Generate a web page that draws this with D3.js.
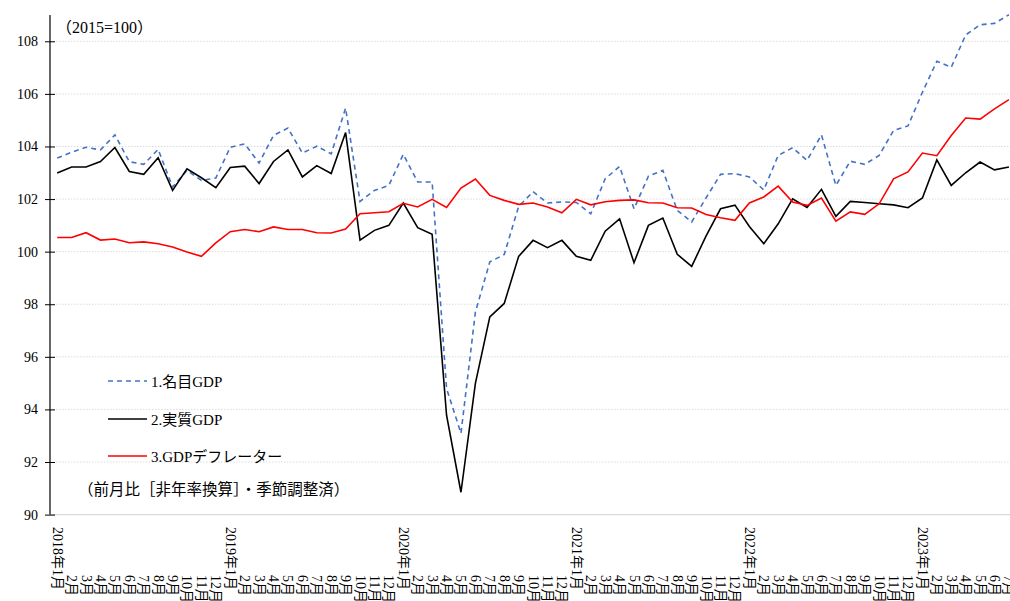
<!DOCTYPE html>
<html><head><meta charset="utf-8">
<script src="https://cdn.jsdelivr.net/npm/d3@7"></script>
<style>
body{margin:0;background:#fff;}
svg text{font-family:"Liberation Serif","Times New Roman","Noto Sans CJK JP",serif;fill:#000;}
</style></head>
<body><svg id="c" width="1010" height="601"></svg>
<script>
const categories = [
"2018年1月","2月","3月","4月","5月","6月","7月","8月","9月","10月","11月","12月",
"2019年1月","2月","3月","4月","5月","6月","7月","8月","9月","10月","11月","12月",
"2020年1月","2月","3月","4月","5月","6月","7月","8月","9月","10月","11月","12月",
"2021年1月","2月","3月","4月","5月","6月","7月","8月","9月","10月","11月","12月",
"2022年1月","2月","3月","4月","5月","6月","7月","8月","9月","10月","11月","12月",
"2023年1月","2月","3月","4月","5月","6月","7月"];

const nominalGDP = [
103.56,103.78,103.97,103.87,104.44,103.42,103.32,103.89,102.46,103.09,102.71,102.80,
103.97,104.10,103.37,104.42,104.70,103.75,104.01,103.72,105.46,101.91,102.33,102.52,
103.70,102.65,102.65,94.80,93.09,97.70,99.61,99.89,101.72,102.28,101.85,101.89,
101.87,101.44,102.77,103.24,101.63,102.87,103.09,101.57,101.13,102.05,102.94,102.97,
102.84,102.35,103.66,103.95,103.47,104.44,102.52,103.44,103.32,103.66,104.61,104.78,
106.06,107.24,107.01,108.24,108.63,108.68,109.01];

const realGDP = [
102.99,103.22,103.22,103.43,103.96,103.05,102.94,103.57,102.33,103.15,102.81,102.43,
103.20,103.25,102.59,103.43,103.87,102.84,103.27,102.97,104.53,100.44,100.81,101.00,
101.85,100.91,100.66,93.78,90.85,94.99,97.52,98.03,99.82,100.43,100.15,100.43,
99.82,99.67,100.78,101.25,99.58,101.00,101.28,99.90,99.44,100.60,101.63,101.77,
100.96,100.30,101.06,102.01,101.68,102.37,101.34,101.91,101.87,101.82,101.78,101.67,
102.04,103.49,102.52,103.00,103.41,103.11,103.22];

const deflator = [
100.54,100.54,100.72,100.44,100.48,100.34,100.37,100.30,100.18,99.99,99.82,100.33,
100.76,100.84,100.76,100.94,100.84,100.84,100.72,100.71,100.86,101.44,101.48,101.52,
101.84,101.70,101.99,101.68,102.42,102.76,102.14,101.95,101.80,101.85,101.70,101.48,
101.99,101.78,101.90,101.95,101.97,101.86,101.85,101.67,101.66,101.41,101.29,101.19,
101.85,102.08,102.49,101.89,101.76,102.04,101.16,101.51,101.42,101.82,102.77,103.03,
103.75,103.65,104.42,105.08,105.04,105.43,105.78];

const yTicks = [90,92,94,96,98,100,102,104,106,108];

const seriesNames = ["1.名目GDP","2.実質GDP","3.GDPデフレーター"];
const seriesColors = ["#4472C4","#000000","#FF0000"];
const seriesDash = ["5,4",null,null];

const svg = d3.select("#c");
const pLeft = 50, pRight = 50 + 67*14.42, pTop = 15, pBottom = 514.6;

const idx = d3.range(categories.length);
const x = d3.scaleBand().domain(idx).range([pLeft, pRight]).paddingInner(0).paddingOuter(0);
const cx = i => x(i) + x.bandwidth()/2;
const y = d3.scaleLinear().domain([90,109]).range([pBottom, pTop]);

// gridlines
svg.append("g").selectAll("line").data(yTicks.filter(t=>t>90)).join("line")
  .attr("x1", pLeft).attr("x2", 1010).attr("y1", d=>y(d)).attr("y2", d=>y(d))
  .attr("stroke","#dcdcdc").attr("stroke-width",1).attr("stroke-dasharray","1.5,1.5");

// x axis line
svg.append("line").attr("x1",pLeft).attr("x2",1010).attr("y1",pBottom).attr("y2",pBottom)
  .attr("stroke","#d9d9d9").attr("stroke-width",1.2);

// y axis
const yAxis = d3.axisLeft(y).tickValues(yTicks).tickSize(5).tickPadding(7).tickFormat(d3.format("d"));
const ya = svg.append("g").attr("transform",`translate(${pLeft},0)`).call(yAxis);
ya.attr("font-family",null).attr("font-size",null);
ya.select(".domain").remove();
ya.selectAll(".tick line").attr("x1",-5).attr("x2",5).attr("stroke","#000");
ya.selectAll(".tick text").style("font-size","14px").attr("x",-12);
svg.append("line").attr("x1",pLeft).attr("x2",pLeft).attr("y1",pTop).attr("y2",pBottom).attr("stroke","#000").attr("stroke-width",1.2);

// x labels
svg.append("g").selectAll("text").data(idx).join("text")
  .attr("transform", i => `translate(${cx(i)},${categories[i].includes("年") ? 527 : 575}) rotate(90)`)
  .attr("text-anchor","start").attr("dominant-baseline","central")
  .style("font-size","14px").text(i=>categories[i]);

// lines
const data = [nominalGDP, realGDP, deflator];
const line = d3.line().x((d,i)=>cx(i)).y(d=>y(d));
data.forEach((s,k)=>{
  svg.append("path").datum(s).attr("d",line).attr("fill","none")
    .attr("stroke",seriesColors[k]).attr("stroke-width",1.6)
    .attr("stroke-dasharray",seriesDash[k]).attr("stroke-linejoin","miter");
});

// legend
const legY = [381, 419, 456];
seriesNames.forEach((n,k)=>{
  svg.append("line").attr("x1",108).attr("x2",147).attr("y1",legY[k]).attr("y2",legY[k])
    .attr("stroke",seriesColors[k]).attr("stroke-width",1.6).attr("stroke-dasharray",seriesDash[k]);
  svg.append("text").attr("x",151).attr("y",legY[k]+1).attr("dominant-baseline","central")
    .style("font-size","15px").text(n);
});

svg.append("text").attr("x",78).attr("y",489).attr("dominant-baseline","central")
  .style("font-size","15.5px").text("（前月比［非年率換算］・季節調整済）");
svg.append("text").attr("x",56).attr("y",27).attr("dominant-baseline","central")
  .style("font-size","16px").text("（2015=100）");
</script></body></html>
